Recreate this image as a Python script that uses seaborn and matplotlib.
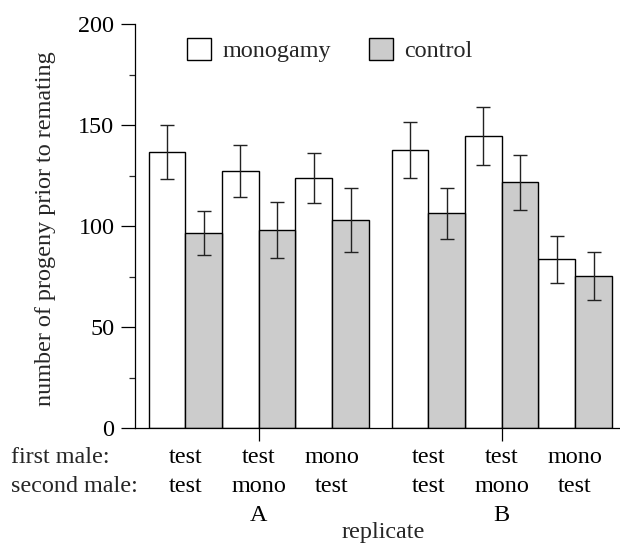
import numpy as np
import pandas as pd
import matplotlib
matplotlib.use("Agg")
import matplotlib.pyplot as plt
import matplotlib.transforms as mtransforms
import seaborn as sns

# ---- data ----
replicates = ["A", "B"]
first_male = ["test", "test", "mono", "test", "test", "mono"]
second_male = ["test", "mono", "test", "test", "mono", "test"]
treatments = ["monogamy", "control"]
mono_mean = [136.5, 127.2, 123.9, 137.7, 144.6, 83.6]
mono_err = [13.4, 12.9, 12.3, 13.8, 14.3, 11.6]
ctrl_mean = [96.4, 98.0, 103.0, 106.3, 121.6, 75.2]
ctrl_err = [11.0, 13.7, 16.0, 12.6, 13.6, 11.8]
yticks_major = [0, 50, 100, 150, 200]
yticks_minor = [25, 75, 125, 175]

# ---- layout ----
GROUP_OFFSET = 3.31  # pair-units between first pair of A and first pair of B
n_per_rep = 3
pair_pos = np.concatenate([np.arange(n_per_rep) + r * GROUP_OFFSET
                           for r in range(len(replicates))])
rep_centers = [pair_pos[r * n_per_rep + 1] for r in range(len(replicates))]

df = pd.DataFrame({
    "pos": np.tile(pair_pos, 2),
    "treatment": np.repeat(treatments, len(pair_pos)),
    "value": mono_mean + ctrl_mean,
})
errs = {"monogamy": mono_err, "control": ctrl_err}

sns.set_style("ticks")
FS = 17.4
plt.rcParams["font.family"] = ["Liberation Serif", "DejaVu Serif"]
plt.rcParams["font.size"] = FS

fig = plt.figure(figsize=(6.2, 5.44), dpi=100)
ax = fig.add_axes([135 / 620, 1 - 428 / 544, 485 / 620, 404 / 544])

sns.barplot(data=df, x="pos", y="value", hue="treatment", hue_order=treatments,
            palette={"monogamy": "white", "control": "#cccccc"},
            native_scale=True, width=1.0, saturation=1, errorbar=None,
            edgecolor="black", linewidth=1.0, ax=ax)

# error bars positioned from the drawn bars
for cont, tr in zip(ax.containers, treatments):
    bars = sorted(cont.patches, key=lambda p: p.get_x())
    xs = [b.get_x() + b.get_width() / 2 for b in bars]
    ys = [b.get_height() for b in bars]
    ax.errorbar(xs, ys, yerr=errs[tr], fmt="none", ecolor="#222222",
                elinewidth=1.0, capsize=5.2, capthick=1.0, zorder=5)

ax.set_xlim(-0.6866, 5.921)
ax.set_ylim(0, 200)
sns.despine(ax=ax)
for s in ["left", "bottom"]:
    ax.spines[s].set_linewidth(0.9)
    ax.spines[s].set_color("black")

ax.set_yticks(yticks_major)
ax.set_yticks(yticks_minor, minor=True)
ax.tick_params(axis="y", which="major", direction="out", length=10.3, width=0.9,
               pad=4.5, labelsize=FS, colors="black")
ax.tick_params(axis="y", which="minor", direction="out", length=4.1, width=0.9)

# pair labels as major ticks (no marks), replicate letters as minor ticks
ax.xaxis.remove_overlapping_locs = False
ax.set_xticks(pair_pos, labels=[f"{a}\n{b}" for a, b in zip(first_male, second_male)])
ax.set_xticks(rep_centers, labels=replicates, minor=True)
ax.tick_params(axis="x", which="major", length=0, pad=13.4, labelsize=FS, colors="black")
ax.tick_params(axis="x", which="minor", direction="out", length=9.1, width=0.9,
               pad=46.3, labelsize=FS, colors="black")
LS = 1.5
for t in ax.get_xticklabels():
    t.set_linespacing(LS)

row_tr = mtransforms.offset_copy(ax.transAxes, fig=fig, x=0, y=-13.4, units="points")
ax.text((11 - 135) / 485, 0, "first male:\nsecond male:", transform=row_tr,
        ha="left", va="top", multialignment="left", linespacing=LS, fontsize=FS)

ax.set_xlabel("replicate", fontsize=FS)
ax.xaxis.set_label_coords((383 - 135) / 485, (428 - 522.0) / 404)
ax.xaxis.label.set_va("top")
ax.set_ylabel("number of progeny prior to remating", fontsize=FS)
ax.yaxis.set_label_coords((46 - 135) / 485, (428 - 229) / 404)
ax.yaxis.label.set_va("center")

sns.move_legend(ax, "upper left", bbox_to_anchor=((187.3 - 135) / 485, (428 - 38.3) / 404),
                ncol=2, frameon=False, title=None, handlelength=1.0, handleheight=1.0,
                handletextpad=0.47, columnspacing=1.55, borderpad=0, borderaxespad=0,
                fontsize=FS)
leg = ax.get_legend()
for h in leg.legend_handles:
    h.set_edgecolor("black")
    h.set_linewidth(1.0)

fig.savefig("out.png", dpi=100)
